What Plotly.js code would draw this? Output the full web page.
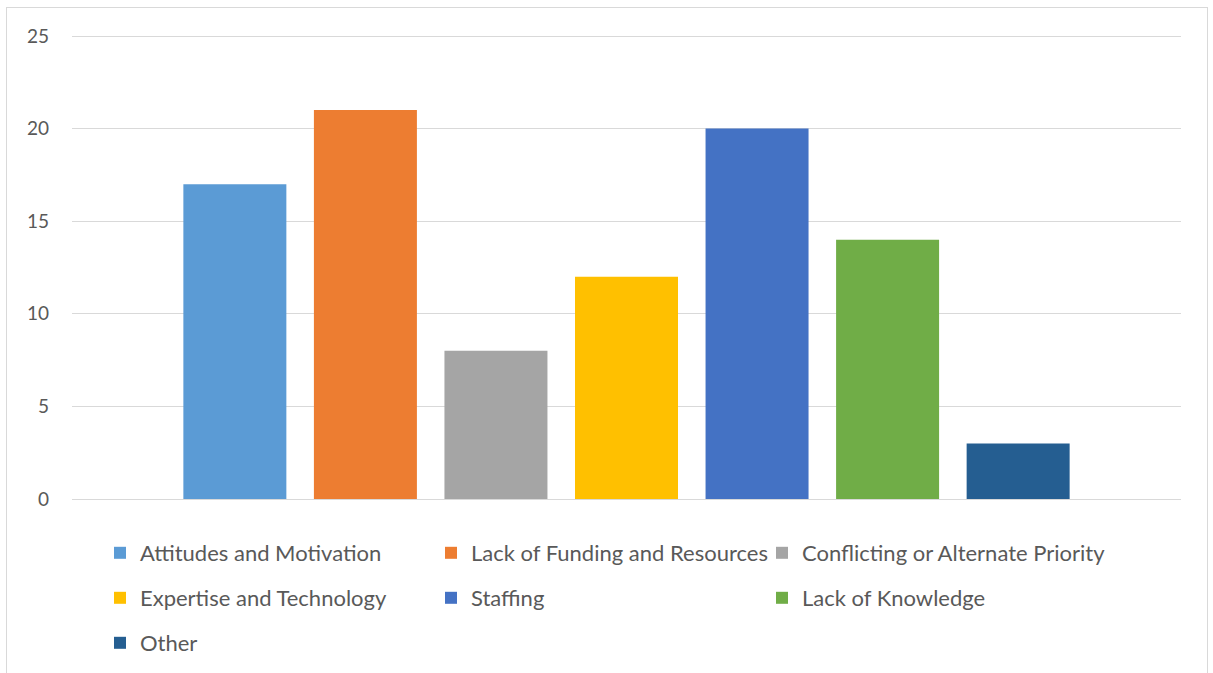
<!DOCTYPE html>
<html>
<head>
<meta charset="utf-8">
<script src="https://cdn.plot.ly/plotly-3.0.1.min.js"></script>
<style>
  html, body { margin: 0; padding: 0; background: #ffffff; }
  #frame { position: absolute; left: 6px; top: 7px; width: 1202px; height: 680px; border: 1px solid #d9d9d9; box-sizing: border-box; }
  #chart { position: absolute; left: 0; top: 0; width: 1213px; height: 673px; }
</style>
</head>
<body>
<div id="frame"></div>
<div id="chart"></div>
<script>
const seriesNames = [
  "Attitudes and Motivation",
  "Lack of Funding and Resources",
  "Conflicting or Alternate Priority",
  "Expertise and Technology",
  "Staffing",
  "Lack of Knowledge",
  "Other"
];
const seriesValues = [17, 21, 8, 12, 20, 14, 3];
const seriesColors = ["#5B9BD5", "#ED7D31", "#A5A5A5", "#FFC000", "#4472C4", "#70AD47", "#255E91"];
const category = ["Barriers"];

// one small legend per entry, laid out as a 3-column grid like the original
const legendIds = seriesNames.map((_, i) => i === 0 ? "legend" : "legend" + (i + 1));

const traces = seriesNames.map((name, i) => ({
  type: "bar",
  name: name,
  x: category,
  y: [seriesValues[i]],
  marker: { color: seriesColors[i] },
  legend: legendIds[i],
  hoverinfo: "name+y"
}));

const W = 1213, H = 673;
const legendFont = { family: "Lato, 'Open Sans', sans-serif", size: 22, color: "#595959" };
const colX0 = 100 / W;
const colStep = 331 / W;
const rowY = [120 / H, 75 / H, 30 / H];

const layout = {
  width: W,
  height: H,
  margin: { l: 72, r: 32, t: 31, b: 170 },
  paper_bgcolor: "rgba(0,0,0,0)",
  plot_bgcolor: "rgba(0,0,0,0)",
  barmode: "group",
  bargap: 0.176,
  bargroupgap: 0.211,
  font: { family: "Lato, 'Open Sans', sans-serif", color: "#595959" },
  xaxis: { showticklabels: false, showgrid: false, zeroline: false, showline: false, ticks: "" },
  yaxis: {
    range: [-0.216, 25.27],
    dtick: 5,
    tick0: 0,
    showgrid: true,
    gridcolor: "#d9d9d9",
    gridwidth: 1,
    zeroline: true,
    zerolinecolor: "#d9d9d9",
    zerolinewidth: 1,
    showline: false,
    ticks: "",
    ticklabelstandoff: 22,
    tickfont: { family: "Lato, 'Open Sans', sans-serif", size: 19, color: "#595959" }
  },
  showlegend: true
};

legendIds.forEach((id, i) => {
  layout[id] = {
    orientation: "h",
    xref: "container",
    yref: "container",
    xanchor: "left",
    yanchor: "middle",
    x: colX0 + (i % 3) * colStep,
    y: rowY[Math.floor(i / 3)],
    font: legendFont,
    bgcolor: "rgba(0,0,0,0)",
    itemclick: false
  };
});

Plotly.newPlot("chart", traces, layout, { displayModeBar: false });
</script>
</body>
</html>
